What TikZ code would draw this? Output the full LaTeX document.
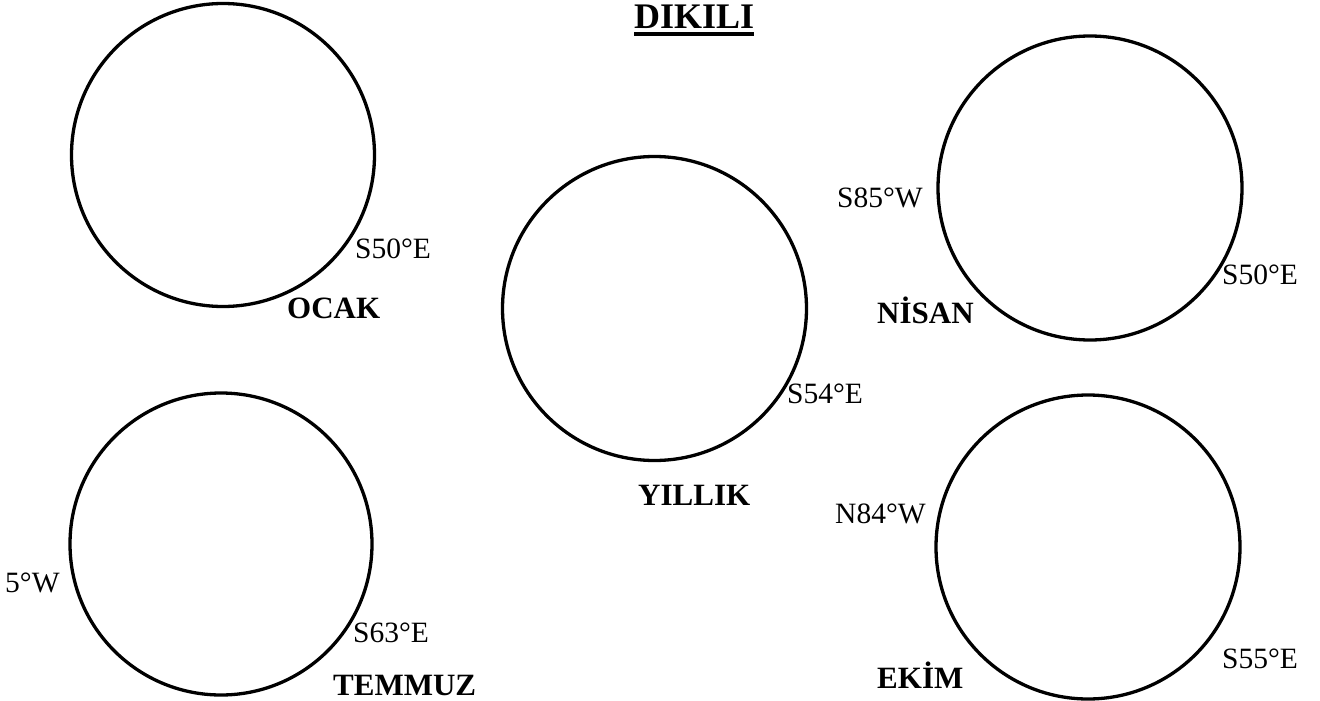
\documentclass[tikz,border=0pt]{standalone}
\usepackage{fontspec}
\setmainfont{Liberation Serif}
\begin{document}
\begin{tikzpicture}[x=1pt,y=-1pt,
  ring/.style={line width=3.3pt},
  dirlab/.style={anchor=base west,inner sep=0pt,font=\fontsize{29.5}{30}\selectfont},
  monthlab/.style={anchor=base west,inner sep=0pt,font=\fontsize{31}{32}\selectfont\bfseries},
  titlelab/.style={anchor=base west,inner sep=0pt,font=\fontsize{36}{38}\selectfont\bfseries}]
\useasboundingbox[fill=white] (0,0) rectangle (1320,701);
% circle centres
\coordinate (cOcak) at (223,155);
\coordinate (cYil) at (654.5,308.5);
\coordinate (cNis) at (1090,188);
\coordinate (cTem) at (221,544);
\coordinate (cEki) at (1088,547);
\draw[ring] (cOcak) circle (151.5);
\draw[ring] (cYil) circle (152);
\draw[ring] (cNis) circle (152);
\draw[ring] (cTem) circle (151);
\draw[ring] (cEki) circle (152);
% title
\node[titlelab] (title) at (634,29) {DIKILI};
\draw[line width=3.5pt] ([yshift=-5pt]title.base west) -- ([yshift=-5pt]title.base east);
% OCAK
\node[dirlab] (ocakS) at (355,258) {S50°E};
\node[monthlab] (ocak) at (287,318) {OCAK};
% YILLIK
\node[dirlab] (yilS) at (787,403) {S54°E};
\node[monthlab] (yil) at (638,505) {YILLIK};
% NISAN
\node[dirlab] (nisW) at (837,207) {S85°W};
\node[dirlab] (nisS) at (1222,284) {S50°E};
\node[monthlab] (nis) at (877,323) {NİSAN};
% TEMMUZ
\node[dirlab] (temW) at (5,592) {5°W};
\node[dirlab] (temS) at (353,642) {S63°E};
\node[monthlab] (tem) at (333,695) {TEMMUZ};
% EKIM
\node[dirlab] (ekiW) at (835,523) {N84°W};
\node[dirlab] (ekiS) at (1222,668) {S55°E};
\node[monthlab] (eki) at (877,688) {EKİM};
\end{tikzpicture}
\end{document}
